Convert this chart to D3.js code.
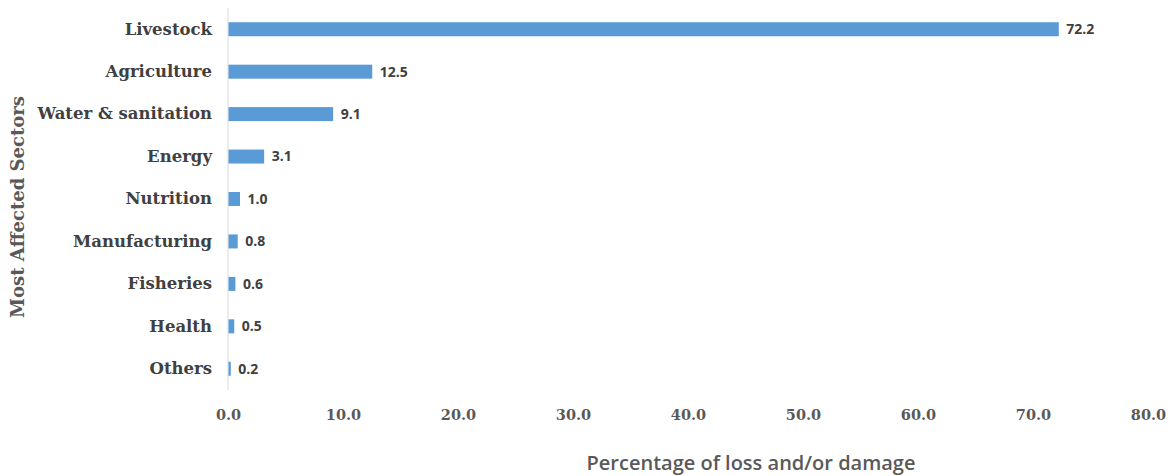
<!DOCTYPE html>
<html>
<head>
<meta charset="utf-8">
<script src="https://cdn.jsdelivr.net/npm/d3@7"></script>
<style>
  html, body { margin: 0; padding: 0; background: #ffffff; }
  svg { display: block; }
</style>
</head>
<body>
<svg id="chart" width="1176" height="476"></svg>
<script>
const categories = ["Livestock", "Agriculture", "Water & sanitation", "Energy", "Nutrition", "Manufacturing", "Fisheries", "Health", "Others"];
const values = [72.2, 12.5, 9.1, 3.1, 1.0, 0.8, 0.6, 0.5, 0.2];
const xTicks = [0, 10, 20, 30, 40, 50, 60, 70, 80];
const xTitle = "Percentage of loss and/or damage";
const yTitle = "Most Affected Sectors";

const svg = d3.select("#chart");
const serif = "'DejaVu Serif', 'Liberation Serif', serif";
const sans = "'Open Sans', 'Lato', 'Liberation Sans', sans-serif";

const x = d3.scaleLinear().domain([0, 80]).range([228, 1148]);
const y = d3.scaleBand().domain(categories).range([8, 390]).paddingInner(0.67).paddingOuter(0.335);

// vertical axis line
svg.append("line")
  .attr("x1", x(0)).attr("x2", x(0))
  .attr("y1", 8).attr("y2", 390)
  .attr("stroke", "#d9d9d9").attr("stroke-width", 1);

// bars
svg.append("g").selectAll("rect")
  .data(categories)
  .join("rect")
  .attr("x", x(0) + 0.5)
  .attr("y", d => y(d))
  .attr("width", (d, i) => Math.max(0, x(values[i]) - x(0)))
  .attr("height", y.bandwidth())
  .attr("fill", "#5b9bd5");

// value labels
svg.append("g").selectAll("text")
  .data(categories)
  .join("text")
  .attr("x", (d, i) => x(values[i]) + 8)
  .attr("y", d => y(d) + y.bandwidth() / 2)
  .attr("dy", "0.35em")
  .attr("font-family", sans)
  .attr("font-weight", "bold")
  .attr("font-size", 14)
  .attr("fill", "#404040")
  .text((d, i) => values[i].toFixed(1));

// category labels
const yAxis = d3.axisLeft(y).tickSize(0).tickPadding(16);
const gy = svg.append("g").attr("transform", `translate(${x(0)},0)`).call(yAxis);
gy.select(".domain").remove();
gy.selectAll("text")
  .attr("font-family", serif)
  .attr("font-weight", "bold")
  .attr("font-size", 16.5)
  .attr("fill", "#404040");

// x axis ticks
const xAxis = d3.axisBottom(x).tickValues(xTicks).tickSize(0).tickPadding(10).tickFormat(d3.format(".1f"));
const gx = svg.append("g").attr("transform", "translate(0,400)").call(xAxis);
gx.select(".domain").remove();
gx.selectAll("text")
  .attr("font-family", serif)
  .attr("font-weight", "bold")
  .attr("font-size", 14.5)
  .attr("fill", "#595959");

// x title
svg.append("text")
  .attr("x", 751).attr("y", 463)
  .attr("dy", "0.35em")
  .attr("text-anchor", "middle")
  .attr("font-family", sans)
  .attr("font-weight", 600)
  .attr("font-size", 20)
  .attr("fill", "#595959")
  .text(xTitle);

// y title
svg.append("text")
  .attr("transform", "translate(18,207) rotate(-90)")
  .attr("dy", "0.35em")
  .attr("text-anchor", "middle")
  .attr("font-family", serif)
  .attr("font-weight", "bold")
  .attr("font-size", 18)
  .attr("fill", "#595959")
  .text(yTitle);
</script>
</body>
</html>
